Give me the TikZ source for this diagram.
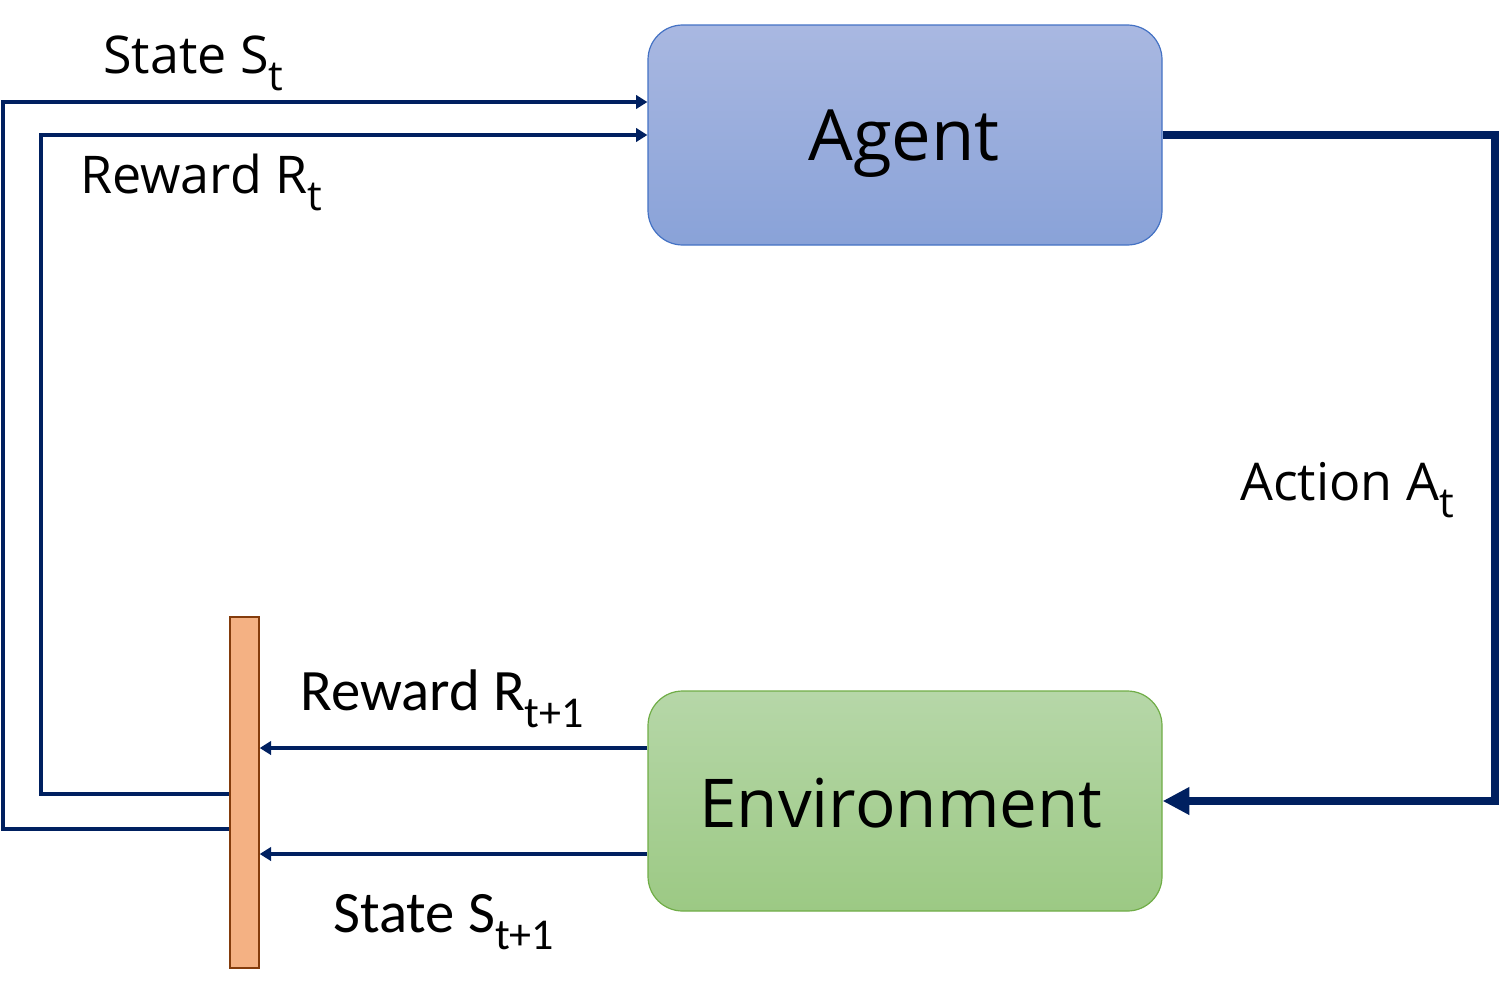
\documentclass[tikz,border=0pt]{standalone}
\usepackage{fontspec}
\setmainfont{Open Sans}
\newfontfamily\carlitofont{Carlito}
\usetikzlibrary{arrows.meta}
\definecolor{navy}{HTML}{002060}
\definecolor{agtop}{HTML}{A9B8E1}
\definecolor{agbot}{HTML}{89A2D8}
\definecolor{agline}{HTML}{4472C4}
\definecolor{envtop}{HTML}{B6D7A8}
\definecolor{envbot}{HTML}{9CC984}
\definecolor{envline}{HTML}{70AD47}
\definecolor{barfill}{HTML}{F4B183}
\definecolor{barline}{HTML}{843C0C}
\newcommand\lo[1]{\raisebox{-0.33em}{\scalebox{0.8}{#1}}}
\newcommand\loc[1]{\raisebox{-0.3em}{\scalebox{0.75}{#1}}}
\begin{document}
\begin{tikzpicture}[x=0.75pt,y=-0.75pt,
  box/.style={draw,line width=0.9pt,rounded corners=26pt,minimum width=385.5pt,minimum height=165pt,inner sep=0pt},
  thinarrow/.style={draw=navy,line width=3.2pt,-{Triangle[length=8.5pt,width=10pt]}},
  thickarrow/.style={draw=navy,line width=6pt,-{Triangle[length=20pt,width=19.5pt]}},
  lbl/.style={anchor=base west,inner sep=0pt,font=\fontsize{39}{46}\selectfont},
  lblc/.style={anchor=base west,inner sep=0pt,font=\carlitofont\fontsize{44}{52}\selectfont}]
\useasboundingbox (0,0) rectangle (1502,982);
\node[box,draw=agline,top color=agtop,bottom color=agbot] (agent) at (905,135) {};
\node[font=\fontsize{53}{60}\selectfont,inner sep=0pt,anchor=base] (agenttxt) at (904,160) {Agent};
\node[box,draw=envline,top color=envtop,bottom color=envbot] (env) at (905,801) {};
\node[font=\fontsize{50.5}{58}\selectfont,inner sep=0pt,anchor=base] (envtxt) at (901,827) {Environment};
\node[draw=barline,fill=barfill,line width=1.3pt,minimum width=21.5pt,minimum height=263pt,inner sep=0pt] (bar) at (244.5,792.5) {};
% left feedback lines
\coordinate (s1) at (3,829);
\coordinate (s2) at (3,102);
\coordinate (r1) at (41,794);
\coordinate (r2) at (41,135);
\draw[thinarrow,line join=miter] (bar.west |- s1) -- (s1) -- (s2) -- (agent.west |- s2);
\draw[thinarrow,line join=miter] (bar.west |- r1) -- (r1) -- (r2) -- (agent.west |- r2);
% env to bar
\coordinate (e1) at (0,748);
\coordinate (e2) at (0,854);
\draw[thinarrow] (env.west |- e1) -- (bar.east |- e1);
\draw[thinarrow] (env.west |- e2) -- (bar.east |- e2);
% action
\coordinate (a1) at (1495,135);
\coordinate (a2) at (1495,801);
\draw[thickarrow,line join=miter] (agent.east) -- (a1) -- (a2) -- (env.east);
% labels
\node[lbl] (ls) at (103,73) {State S\lo{t}};
\node[lbl] (lr) at (80,193) {Reward R\lo{t}};
\node[lblc] (lr1) at (300,710) {Reward R\loc{t+1}};
\node[lblc] (ls1) at (333,932) {State S\loc{t+1}};
\node[lbl] (la) at (1240,500) {Action A\lo{t}};
\end{tikzpicture}
\end{document}
